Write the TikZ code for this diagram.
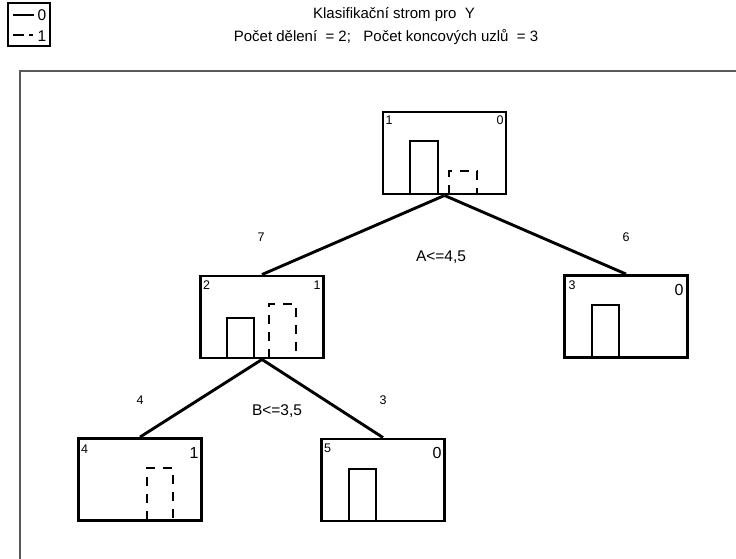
\documentclass[tikz,border=0pt]{standalone}
\usepackage{fontspec}
\setmainfont{Liberation Sans}
\begin{document}
\begin{tikzpicture}[x=1pt,y=-1pt,
  treebox/.style={draw, line width=2.9pt, rectangle, inner sep=0pt,
    minimum width=123pt, minimum height=82pt},
  bar/.style={line width=2.9pt, line join=miter},
  dbar/.style={line width=2.9pt, dash pattern=on 9pt off 8pt},
  edge/.style={line width=2.9pt},
  small/.style={font=\fontsize{12.5}{13}\selectfont, inner sep=0pt},
  big/.style={font=\fontsize{16}{17}\selectfont, inner sep=0pt},
  split/.style={font=\fontsize{15.5}{17}\selectfont, inner sep=0pt},
  title/.style={font=\fontsize{15}{16}\selectfont, inner sep=0pt},
  legtext/.style={font=\fontsize{15.5}{16}\selectfont, inner sep=0pt}]
\useasboundingbox (0,0) rectangle (736,558);
\fill[white] (0,0) rectangle (736,558);

% legend
\draw[line width=1.3pt] (8,3) rectangle (50,46);
\draw[line width=2.6pt] (13,15) -- (34,15);
\node[legtext] (leg0) at (42,15) {0};
\draw[line width=2.6pt] (13,35) -- (24,35);
\draw[line width=2.6pt] (29,35) -- (33,35);
\node[legtext] (leg1) at (42,36) {1};

% headings
\node[title] (t1) at (394,15) {Klasifikační strom pro~~Y};
\node[title] (t2) at (386,37) {Počet dělení~~= 2;~~~Počet koncových uzlů~~= 3};

% plot frame
\draw[line width=1.3pt, gray!70!black] (20,560) -- (20,71) -- (738,71);

% tree nodes
\node[treebox] (n1) at (444.5,153) {};
\node[treebox] (n2) at (262,317) {};
\node[treebox] (n3) at (626,316.5) {};
\node[treebox] (n4) at (140,479.5) {};
\node[treebox] (n5) at (383,480) {};

% connectors
\draw[edge] (n1.south) -- (n2.north);
\draw[edge] (n1.south) -- (n3.north);
\draw[edge] (n2.south) -- (n4.north);
\draw[edge] (n2.south) -- (n5.north);

% class bars (solid = 0, dashed = 1)
\draw[bar] (410,194) -- (410,141) -- (438,141) -- (438,194);
\draw[dbar] (449,194) -- (449,171) -- (477,171) -- (477,194);
\draw[bar] (227,358) -- (227,318) -- (254,318) -- (254,358);
\draw[dbar] (269,358) -- (269,304) -- (296,304) -- (296,358);
\draw[bar] (592,358) -- (592,305) -- (619,305) -- (619,358);
\draw[dbar] (147,520) -- (147,468) -- (173,468) -- (173,520);
\draw[bar] (349,521) -- (349,469) -- (376,469) -- (376,521);

% node numbers and predicted classes
\node[small] (id1) at (389,120) {1};
\node[small] (c1) at (500,120) {0};
\node[small] (id2) at (206.5,285) {2};
\node[small] (c2) at (317,285) {1};
\node[small] (id3) at (572,285) {3};
\node[big] (c3) at (679,290) {0};
\node[small] (id4) at (84.5,449) {4};
\node[big] (c4) at (194,453) {1};
\node[small] (id5) at (327.5,448) {5};
\node[big] (c5) at (437,453) {0};

% counts and split conditions
\node[small] (k7) at (261,237) {7};
\node[small] (k6) at (626,237) {6};
\node[split] (s1) at (441,257) {A<=4,5};
\node[small] (k4) at (140,400) {4};
\node[small] (k3) at (383,400) {3};
\node[split] (s2) at (277,411) {B<=3,5};
\end{tikzpicture}
\end{document}
